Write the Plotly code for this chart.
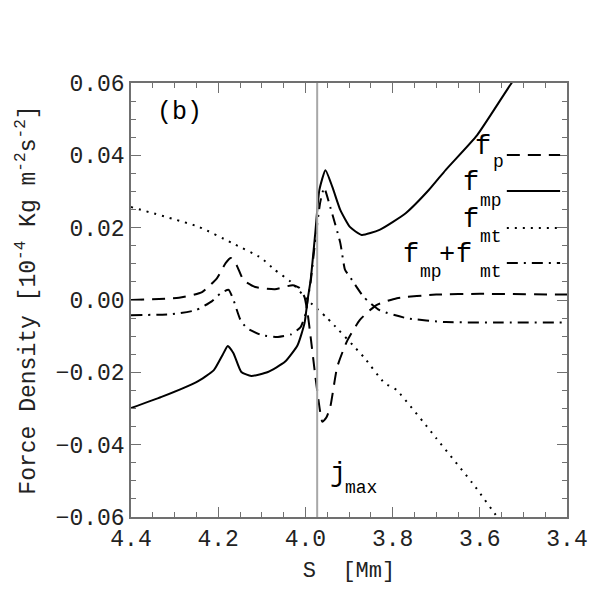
import plotly.graph_objects as go

# ---- data ----
x_mp = [4.40, 4.33, 4.25, 4.21, 4.19, 4.178, 4.165, 4.147, 4.124, 4.086, 4.047, 4.018, 4.002,
        3.995, 3.988, 3.977, 3.968, 3.954, 3.938, 3.920, 3.898, 3.871, 3.83, 3.77, 3.717,
        3.678, 3.606, 3.527, 3.50]
y_mp = [-0.0299, -0.0268, -0.0227, -0.0194, -0.0152, -0.0127, -0.0147, -0.0199, -0.0210,
        -0.0199, -0.0171, -0.0125, -0.0064, 0.0, 0.0055, 0.0190, 0.0304, 0.0359, 0.0312,
        0.0249, 0.0202, 0.0180, 0.0194, 0.0240, 0.0304, 0.0360, 0.0456, 0.0600, 0.0640]

x_p = [4.40, 4.29, 4.237, 4.203, 4.183, 4.171, 4.158, 4.142, 4.115, 4.07, 4.029, 4.013, 4.002,
       3.995, 3.988, 3.977, 3.966, 3.961, 3.952, 3.943, 3.927, 3.905, 3.875, 3.837, 3.79,
       3.70, 3.60, 3.40]
y_p = [0.0, 0.0006, 0.0022, 0.0060, 0.0102, 0.0116, 0.0097, 0.0055, 0.0036, 0.0030, 0.0041,
       0.0033, 0.0008, -0.0036, -0.0102, -0.0213, -0.0310, -0.0337, -0.0325, -0.0296,
       -0.0185, -0.0115, -0.0055, -0.0014, 0.0005, 0.0015, 0.0017, 0.0015]

x_mt = [4.40, 4.244, 4.169, 4.101, 4.07, 4.033, 3.995, 3.95, 3.866, 3.819, 3.791, 3.70,
        3.61, 3.56, 3.54]
y_mt = [0.0257, 0.0202, 0.0158, 0.0116, 0.0083, 0.0050, 0.0, -0.0050, -0.0158, -0.0229,
        -0.0249, -0.0382, -0.0517, -0.0600, -0.0630]

x_sum = [4.40, 4.305, 4.251, 4.214, 4.194, 4.176, 4.165, 4.149, 4.135, 4.101, 4.063, 4.033,
         4.011, 3.999, 3.995, 3.988, 3.977, 3.966, 3.957, 3.943, 3.920, 3.909, 3.898, 3.866,
         3.83, 3.769, 3.678, 3.55, 3.40]
y_sum = [-0.0042, -0.0039, -0.0028, -0.0003, 0.0019, 0.0028, 0.0, -0.0055, -0.0077, -0.0097,
         -0.0102, -0.0095, -0.0075, -0.0036, 0.0, 0.0050, 0.0170, 0.0270, 0.0310, 0.0257,
         0.0158, 0.0083, 0.0064, 0.0008, -0.0028, -0.0050, -0.0061, -0.0062, -0.0062]

j_max = 3.973
x_range = [4.4, 3.4]
y_range = [-0.06, 0.06]

FONT = "Liberation Mono"
AX = "#707070"
TXT = "#222"

fig = go.Figure()
fig.add_trace(go.Scatter(x=x_p, y=y_p, mode="lines", line=dict(color="black", width=2, dash="13px,8px", shape="spline", smoothing=0.5)))
fig.add_trace(go.Scatter(x=x_mp, y=y_mp, mode="lines", line=dict(color="black", width=2, shape="spline", smoothing=0.5)))
fig.add_trace(go.Scatter(x=x_mt, y=y_mt, mode="lines", line=dict(color="black", width=2, dash="2px,6px", shape="spline", smoothing=0.5)))
fig.add_trace(go.Scatter(x=x_sum, y=y_sum, mode="lines", line=dict(color="black", width=2, dash="11px,6px,2px,6px", shape="spline", smoothing=0.5)))

fig.add_vline(x=j_max, line=dict(color="#a8a8a8", width=2))

# plot-area pixel geometry
L, R, T, B = 131, 573, 83, 517
def px(x):
    return (x - L) / (R - L)
def py(y):
    return (B - y) / (B - T)

# legend sample lines
leg = [(155, "13px,8px"), (191, "solid"), (228, "2px,6px"), (263, "11px,6px,2px,6px")]
for yy, d in leg:
    fig.add_shape(type="line", xref="paper", yref="paper", x0=px(512), x1=px(566), y0=py(yy), y1=py(yy),
                  line=dict(color="black", width=2, dash=d))

anns = []
def txt(t, x, y, size, anchor="left"):
    anns.append(dict(text=t, xref="paper", yref="paper", x=px(x), y=py(y), xanchor=anchor, yanchor="middle",
                     showarrow=False, font=dict(family=FONT, size=size, color="black")))

BIG, SMALL = 27, 18
txt("f", 478, 147, BIG); txt("p", 496, 162, SMALL)
txt("f", 466, 183, BIG); txt("mp", 483, 201, SMALL)
txt("f", 466, 220, BIG); txt("mt", 483, 237, SMALL)
txt("f", 405, 255, BIG); txt("mp", 422, 272, SMALL); txt("+", 441, 255, BIG)
txt("f", 458, 255, BIG); txt("mt", 483, 272, SMALL)
txt("(b)", 180, 112, 25, anchor="center")
txt("j", 331, 474, BIG); txt("max", 346, 488, SMALL)

fig.update_layout(
    width=600, height=600,
    margin=dict(l=L, r=600 - R, t=T, b=600 - B),
    paper_bgcolor="white", plot_bgcolor="white",
    showlegend=False,
    font=dict(family=FONT, size=23, color=TXT),
    annotations=anns,
)
fig.update_xaxes(
    range=x_range, dtick=0.2, tick0=3.4, tickformat=".1f",
    showgrid=False, zeroline=False, showline=True, linecolor=AX, linewidth=1.5, mirror="allticks",
    ticks="inside", ticklen=10, tickcolor=AX, tickwidth=1,
    minor=dict(dtick=0.05, ticks="inside", ticklen=5, tickcolor=AX, showgrid=False),
    tickfont=dict(family=FONT, size=23, color=TXT),
    title=dict(text="S  [Mm]", font=dict(family=FONT, size=22, color=TXT), standoff=9),
)
fig.update_yaxes(
    range=y_range, dtick=0.02, tick0=0, tickformat=".2f",
    showgrid=False, zeroline=False, showline=True, linecolor=AX, linewidth=1.5, mirror="allticks",
    ticks="inside", ticklen=10, tickcolor=AX, tickwidth=1,
    minor=dict(dtick=0.005, ticks="inside", ticklen=5, tickcolor=AX, showgrid=False),
    tickfont=dict(family=FONT, size=23, color=TXT),
    title=dict(text="Force Density [10<sup>-4</sup> Kg m<sup>-2</sup>s<sup>-2</sup>]",
               font=dict(family=FONT, size=23, color=TXT), standoff=14),
)

fig.write_html("out.html")
